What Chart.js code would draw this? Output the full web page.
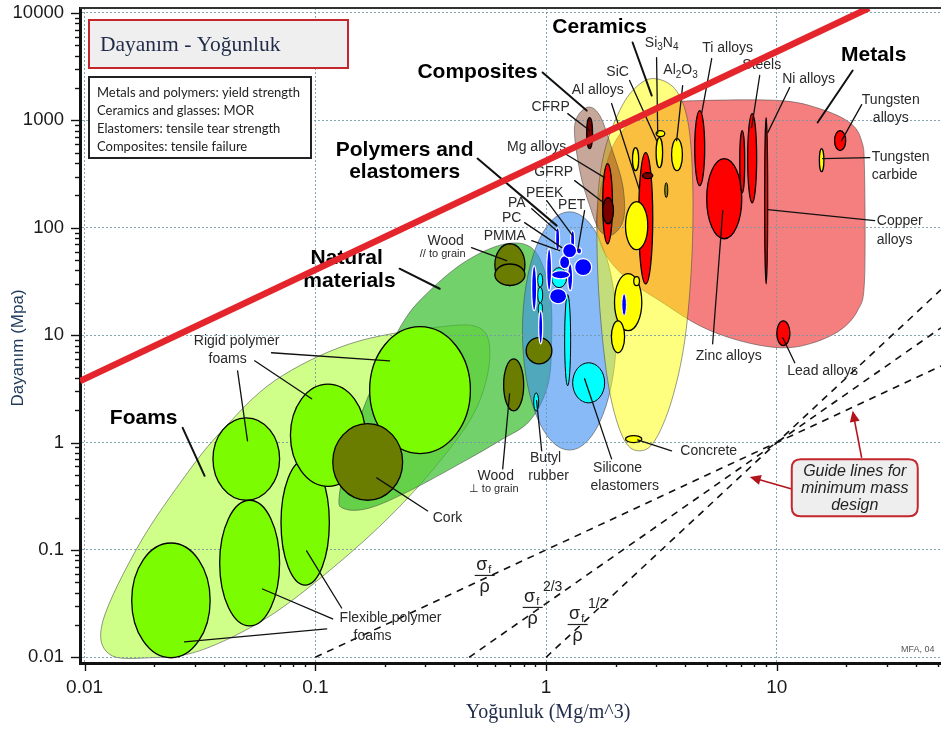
<!DOCTYPE html>
<html>
<head>
<meta charset="utf-8">
<script src="https://cdn.jsdelivr.net/npm/chart.js@4.4.1/dist/chart.umd.min.js"></script>
<style>
  html, body { margin: 0; padding: 0; background: #fff; }
  canvas { display: block; }
</style>
</head>
<body>
<canvas id="chart" width="941" height="733"></canvas>
<script>
// ---------- axes ----------
const densityTicks = [0.01, 0.1, 1, 10];
const densityTickLabels = ['0.01', '0.1', '1', '10'];
const strengthTicks = [0.01, 0.1, 1, 10, 100, 1000, 10000];
const strengthTickLabels = ['0.01', '0.1', '1', '10', '100', '1000', '10000'];
const densityBounds = [0.00955, 51.5];
const strengthBounds = [0.00885, 11130];

// ---------- family envelopes: [density, strength] outline points ----------
const foamEnvelope = [[0.0120,0.0218],[0.0173,0.114],[0.0277,0.51],[0.0393,1.285],[0.0666,3.76],[0.141,8.3],[0.322,11.7],[0.515,11.7],[0.57,6.16],[0.50,2.1],[0.356,0.72],[0.216,0.217],[0.119,0.068],[0.0615,0.0232],[0.0315,0.0115],[0.0191,0.0099],[0.0128,0.0107]];
const naturalEnvelope = [[0.127,0.319],[0.144,1.04],[0.181,3.76],[0.239,13.0],[0.313,25.9],[0.453,49.4],[0.675,71.1],[0.892,61.2],[1.036,25.9],[1.057,8.87],[1.016,3.38],[0.849,1.59],[0.63,1.04],[0.422,0.633],[0.256,0.355],[0.172,0.246],[0.134,0.241]];
const polymerEnvelope = [0.79, 2.02, 0.85, 141];   // density min/max, strength min/max
const metalEnvelope = [[1.66,130],[1.795,340],[2.04,691],[2.54,1109],[3.43,1434],[4.63,1529],[10.3,1529],[15.3,1288],[20.7,954],[23.3,648],[24.0,340],[24.0,32.1],[22.4,16.9],[18.7,11.0],[13.9,8.3],[10.3,7.63],[6.91,8.87],[4.63,12.24],[3.11,20.9],[2.30,32.1],[1.887,49.4],[1.707,75.8]];
const ceramicEnvelope = [[2.90,2453],[3.61,1977],[4.11,996],[4.32,275],[4.28,49.4],[3.99,8.87],[3.50,2.45],[2.96,1.04],[2.54,0.837],[2.19,1.04],[1.92,2.45],[1.76,8.87],[1.674,39.8],[1.674,179],[1.795,523],[2.085,1234],[2.42,1977]];
const compositeEnvelope = [[1.33,894],[1.50,1316],[1.71,1109],[1.94,523],[2.15,247],[2.17,122],[1.94,86],[1.71,94],[1.545,161],[1.40,340]];

// ---------- material bubbles: [density min, density max, strength min, strength max] ----------
const foamRanges = [
  [0.016, 0.035, 0.0099, 0.116],
  [0.0385, 0.070, 0.0196, 0.29],
  [0.071, 0.115, 0.047, 0.69],
  [0.036, 0.070, 0.29, 1.7],
  [0.078, 0.165, 0.39, 3.5],
  [0.172, 0.47, 0.79, 12]
];
const naturalRanges = [
  [0.119, 0.239, 0.29, 1.5],     // cork
  [0.60, 0.81, 29, 71],          // wood, parallel to grain
  [0.60, 0.81, 29, 46],
  [0.655, 0.80, 1.97, 6.0],      // wood, across grain
  [0.82, 1.06, 5.4, 9.5]
];
const elastomerRanges = [
  [1.057, 1.228, 27.7, 42.5],
  [0.92, 0.967, 28, 37.4],
  [0.92, 0.967, 20, 28],
  [0.925, 0.965, 15.8, 20],
  [1.204, 1.278, 3.38, 23.8],
  [1.304, 1.795, 2.34, 5.53],    // silicone
  [0.884, 0.929, 1.97, 2.9]      // butyl rubber
];
const polymerRanges = [
  [1.10, 1.145, 61, 100],        // PA
  [1.278, 1.33, 61, 94],         // PEEK
  [1.006, 1.057, 25.9, 63.8],
  [0.866, 0.911, 16.9, 44.3],
  [0.929, 0.967, 8.3, 16.9],
  [1.036, 1.228, 19.6, 27.1],
  [1.24, 1.304, 25.9, 46.3],
  [1.057, 1.266, 33.5, 39.8],
  [1.145, 1.266, 41.6, 55],
  [1.33, 1.577, 35.8, 51.5],
  [1.18, 1.357, 52.6, 71],       // PC / PMMA
  [1.357, 1.426, 57, 65]         // PET
];
const metalRanges = [
  [1.76, 1.94, 71, 396],         // Mg alloys
  [2.52, 2.90, 30, 500],         // Al alloys
  [4.41, 4.87, 247, 1234],       // Ti alloys
  [4.97, 7.05, 79, 441],         // Zinc alloys
  [6.91, 7.26, 212, 804],        // steels
  [7.48, 8.18, 171, 1157],       // steels
  [8.86, 9.13, 30, 1062],        // Ni / copper alloys
  [17.8, 19.9, 523, 804],        // tungsten alloys
  [10.0, 11.4, 8.0, 13.6]        // lead alloys
];
const ceramicRanges = [
  [3.0, 3.2, 363, 692],          // Si3N4
  [3.0, 3.27, 706, 804],         // SiC
  [3.5, 3.9, 340, 677],          // Al2O3
  [2.37, 2.52, 340, 558],
  [2.21, 2.76, 62.5, 175],
  [1.98, 2.6, 11, 37.4],
  [2.40, 2.54, 28.9, 35],
  [1.92, 2.19, 6.85, 13.6],
  [2.21, 2.6, 1.0, 1.16],        // concrete
  [15.3, 16.0, 333, 546]         // tungsten carbide
];
const compositeRanges = [
  [1.50, 1.59, 546, 1062],       // CFRP
  [1.76, 1.96, 109, 191],        // GFRP
  [2.62, 2.90, 287, 326]
];
const glassRanges = [[2.13, 2.23, 15.2, 24.3]];
const cermetRanges = [[3.27, 3.37, 191, 263]];

// ---------- straight guide lines ----------
const limitLineDensity = [0.00955, 25.1];
const limitLineStrength = [3.74, 11130];
const guideDensity1 = [0.1, 51.5],   guideStrength1 = [0.01, 5.15];
const guideDensity2 = [0.464, 51.5], guideStrength2 = [0.01, 11.7];
const guideDensity3 = [1, 51.5],     guideStrength3 = [0.01, 26.5];

// ---------- annotations, placed at [log10 density, log10 strength] ----------
const familyLabels = [
  ['Ceramics', 0.232, 3.865], ['Composites', -0.297, 3.446], ['Metals', 1.420, 3.604],
  ['Polymers and', -0.613, 2.719], ['elastomers', -0.613, 2.514],
  ['Natural', -0.864, 1.721], ['materials', -0.852, 1.507], ['Foams', -1.744, 0.230]
];
const familyLeaders = [
  [0.375, 3.725, 0.458, 3.231], [-0.015, 3.446, 0.176, 3.091], [1.329, 3.464, 1.177, 2.980],
  [-0.297, 2.644, 0.046, 2.020], [-0.635, 1.619, -0.461, 1.432], [-1.575, 0.137, -1.480, -0.310]
];
const materialLabels = [
  ['Si_3N_4', 0.501, 3.716], ['SiC', 0.310, 3.446], ['Al_2O_3', 0.583, 3.464], ['Al alloys', 0.224, 3.278],
  ['CFRP', 0.020, 3.119], ['Mg alloys', -0.041, 2.747], ['GFRP', 0.033, 2.514], ['PEEK', -0.006, 2.327],
  ['PA', -0.127, 2.225], ['PC', -0.149, 2.094], ['PET', 0.111, 2.215], ['PMMA', -0.179, 1.926],
  ['Wood', -0.435, 1.880], ['Wood', -0.218, -0.310], ['Butyl', -0.002, -0.143], ['rubber', 0.011, -0.310],
  ['Silicone', 0.310, -0.236], ['elastomers', 0.341, -0.404], ['Concrete', 0.705, -0.077],
  ['Zinc alloys', 0.792, 0.808], ['Lead alloys', 1.199, 0.668], ['Copper', 1.533, 2.066], ['alloys', 1.511, 1.889],
  ['Tungsten', 1.537, 2.653], ['carbide', 1.511, 2.486], ['Tungsten', 1.494, 3.185], ['alloys', 1.494, 3.017],
  ['Ni alloys', 1.138, 3.380], ['Steels', 0.935, 3.511], ['Ti alloys', 0.787, 3.669],
  ['Rigid polymer', -1.341, 0.948], ['foams', -1.380, 0.780],
  ['Flexible polymer', -0.674, -1.634], ['foams', -0.752, -1.802], ['Cork', -0.427, -0.702]
];
const grainCaptions = [['// to grain', -0.448, 1.759], ['\u22a5 to grain', -0.227, -0.432]];
const materialLeaders = [
  [0.479, 3.585, 0.484, 2.877], [0.362, 3.371, 0.479, 2.812], [0.592, 3.324, 0.566, 2.812],
  [0.284, 3.157, 0.406, 2.346], [0.094, 3.063, 0.189, 2.905], [0.081, 2.691, 0.254, 2.467],
  [0.124, 2.439, 0.254, 2.225], [0.003, 2.253, 0.115, 1.926], [-0.062, 2.178, 0.046, 1.973],
  [-0.093, 2.048, 0.068, 1.815], [0.167, 2.159, 0.137, 1.787], [-0.062, 1.880, 0.059, 1.787],
  [-0.323, 1.815, -0.171, 1.693], [-0.188, -0.245, -0.158, 0.454], [-0.019, -0.077, -0.041, 0.389],
  [0.284, -0.152, 0.167, 0.594], [0.544, -0.077, 0.397, 0.025], [0.722, 0.920, 0.766, 2.159],
  [1.078, 0.743, 1.026, 0.976], [1.424, 2.066, 0.961, 2.169], [1.403, 2.653, 1.199, 2.644],
  [1.368, 3.147, 1.281, 2.812], [1.056, 3.306, 0.961, 2.886], [0.926, 3.418, 0.891, 2.933],
  [0.718, 3.576, 0.675, 3.073], [-1.337, 0.668, -1.294, 0.016], [-1.263, 0.761, -1.016, 0.407],
  [-1.190, 0.836, -0.678, 0.761], [-0.886, -1.541, -1.038, -1.009], [-0.925, -1.643, -1.229, -1.364],
  [-0.951, -1.736, -1.567, -1.857], [-0.513, -0.637, -0.734, -0.329]
];
const guideNoteSpot = [1.338, -0.422];
const guideNoteLines = ['Guide lines for', 'minimum mass', 'design'];
const guideNoteArrows = [[1.065, -0.432, 0.883, -0.320], [1.368, -0.143, 1.329, 0.295]];
const indexFractions = [[-0.266, -1.233, ''], [-0.058, -1.531, '2/3'], [0.137, -1.690, '1/2']];
const creditSpot = [1.611, -1.932];
const chartTitle = 'Dayan\u0131m - Yo\u011funluk';
const criteriaNotes = ['Metals and polymers: yield strength', 'Ceramics and glasses: MOR',
                       'Elastomers: tensile tear strength', 'Composites: tensile failure'];
const xTitle = 'Yo\u011funluk (Mg/m^3)';
const yTitle = 'Dayan\u0131m (Mpa)';

// ---------- styling ----------
const SANS = '"Liberation Sans", Arial, sans-serif';
const SERIF = '"Liberation Serif", "Times New Roman", serif';
const envelopeLayers = [
  { pts: foamEnvelope, fill: 'rgba(196,255,110,0.82)' },
  { pts: naturalEnvelope, fill: 'rgba(55,190,45,0.70)' },
  { range: polymerEnvelope, fill: 'rgba(55,140,240,0.60)' },
  { pts: metalEnvelope, fill: 'rgba(240,60,60,0.66)' },
  { pts: ceramicEnvelope, fill: 'rgba(255,255,0,0.50)' },
  { pts: compositeEnvelope, fill: 'rgba(130,60,30,0.45)' }
];
const bubbleLayers = [
  { ranges: foamRanges, fill: '#7CFC00', stroke: '#000', w: 1.3 },
  { ranges: naturalRanges, fill: '#6B7D00', stroke: '#000', w: 1.3 },
  { ranges: elastomerRanges, fill: '#00FFFF', stroke: '#000', w: 1 },
  { ranges: polymerRanges, fill: '#0000FF', stroke: '#fff', w: 1.2 },
  { ranges: metalRanges, fill: '#FF0000', stroke: '#000', w: 1.3 },
  { ranges: ceramicRanges, fill: '#FFFF00', stroke: '#000', w: 1.3 },
  { ranges: compositeRanges, fill: '#7A0000', stroke: '#000', w: 1.3 },
  { ranges: glassRanges, fill: '#0000FF', stroke: '#fff', w: 1 },
  { ranges: cermetRanges, fill: '#8A8A00', stroke: '#000', w: 1 }
];

// ---------- drawing helpers ----------
function px(chart, u) { return chart.scales.x.getPixelForValue(Math.pow(10, u)); }
function py(chart, v) { return chart.scales.y.getPixelForValue(Math.pow(10, v)); }

function rangeEllipse(ctx, xs, ys, r) {
  const x1 = xs.getPixelForValue(r[0]), x2 = xs.getPixelForValue(r[1]);
  const y1 = ys.getPixelForValue(r[2]), y2 = ys.getPixelForValue(r[3]);
  ctx.beginPath();
  ctx.ellipse((x1 + x2) / 2, (y1 + y2) / 2, Math.abs(x2 - x1) / 2, Math.abs(y2 - y1) / 2, 0, 0, Math.PI * 2);
}

function smoothHull(ctx, pts) {
  const n = pts.length;
  ctx.beginPath();
  ctx.moveTo(pts[0][0], pts[0][1]);
  for (let i = 0; i < n; i++) {
    const p0 = pts[(i - 1 + n) % n], p1 = pts[i], p2 = pts[(i + 1) % n], p3 = pts[(i + 2) % n];
    ctx.bezierCurveTo(
      p1[0] + (p2[0] - p0[0]) / 6, p1[1] + (p2[1] - p0[1]) / 6,
      p2[0] - (p3[0] - p1[0]) / 6, p2[1] - (p3[1] - p1[1]) / 6,
      p2[0], p2[1]);
  }
  ctx.closePath();
}

function richText(ctx, text, cx, cy, size, weight) {
  const segs = [];
  for (let i = 0; i < text.length; i++) {
    if (text[i] === '_' && i + 1 < text.length) { segs.push({ t: text[i + 1], sub: true }); i++; }
    else if (segs.length && !segs[segs.length - 1].sub) segs[segs.length - 1].t += text[i];
    else segs.push({ t: text[i], sub: false });
  }
  const fN = weight + ' ' + size + 'px ' + SANS, fS = weight + ' ' + Math.round(size * 0.72) + 'px ' + SANS;
  let w = 0;
  segs.forEach(s => { ctx.font = s.sub ? fS : fN; s.w = ctx.measureText(s.t).width; w += s.w; });
  let x = cx - w / 2;
  ctx.textAlign = 'left';
  ctx.textBaseline = 'middle';
  segs.forEach(s => { ctx.font = s.sub ? fS : fN; ctx.fillText(s.t, x, cy + (s.sub ? size * 0.3 : 0)); x += s.w; });
}

function segment(ctx, chart, l, width) {
  ctx.beginPath();
  ctx.moveTo(px(chart, l[0]), py(chart, l[1]));
  ctx.lineTo(px(chart, l[2]), py(chart, l[3]));
  ctx.lineWidth = width;
  ctx.stroke();
}

function arrow(ctx, x1, y1, x2, y2) {
  const a = Math.atan2(y2 - y1, x2 - x1), L = 11, W = 5;
  ctx.beginPath(); ctx.moveTo(x1, y1); ctx.lineTo(x2 - L * 0.6 * Math.cos(a), y2 - L * 0.6 * Math.sin(a)); ctx.stroke();
  ctx.beginPath();
  ctx.moveTo(x2, y2);
  ctx.lineTo(x2 - L * Math.cos(a) + W * Math.sin(a), y2 - L * Math.sin(a) - W * Math.cos(a));
  ctx.lineTo(x2 - L * Math.cos(a) - W * Math.sin(a), y2 - L * Math.sin(a) + W * Math.cos(a));
  ctx.closePath(); ctx.fill();
}

function roundRect(ctx, x, y, w, h, r) {
  ctx.beginPath();
  ctx.moveTo(x + r, y); ctx.lineTo(x + w - r, y); ctx.quadraticCurveTo(x + w, y, x + w, y + r);
  ctx.lineTo(x + w, y + h - r); ctx.quadraticCurveTo(x + w, y + h, x + w - r, y + h);
  ctx.lineTo(x + r, y + h); ctx.quadraticCurveTo(x, y + h, x, y + h - r);
  ctx.lineTo(x, y + r); ctx.quadraticCurveTo(x, y, x + r, y);
  ctx.closePath();
}

function drawLabels(chart) {
  const ctx = chart.ctx;
  ctx.save();
  ctx.strokeStyle = '#111';
  ctx.lineCap = 'round';
  materialLeaders.forEach(l => segment(ctx, chart, l, 1.3));
  familyLeaders.forEach(l => segment(ctx, chart, l, 2));
  ctx.fillStyle = '#2a2a2a';
  materialLabels.forEach(l => richText(ctx, l[0], px(chart, l[1]), py(chart, l[2]), 14, 'normal'));
  grainCaptions.forEach(l => richText(ctx, l[0], px(chart, l[1]), py(chart, l[2]), 11, 'normal'));
  ctx.fillStyle = '#000';
  familyLabels.forEach(l => richText(ctx, l[0], px(chart, l[1]), py(chart, l[2]), 21, 'bold'));
  ctx.restore();
}

const ashbyPlugin = {
  id: 'ashby',
  beforeDraw(chart) {
    const { ctx, chartArea: a, scales: { x, y } } = chart;
    ctx.save();
    ctx.fillStyle = '#fff';
    ctx.fillRect(0, 0, chart.width, chart.height);
    ctx.beginPath(); ctx.rect(a.left, a.top, a.right - a.left, a.bottom - a.top); ctx.clip();
    envelopeLayers.forEach(env => {
      if (env.range) rangeEllipse(ctx, x, y, env.range);
      else smoothHull(ctx, env.pts.map(p => [x.getPixelForValue(p[0]), y.getPixelForValue(p[1])]));
      ctx.fillStyle = env.fill; ctx.fill();
      ctx.strokeStyle = 'rgba(70,70,70,0.55)'; ctx.lineWidth = 1; ctx.stroke();
    });
    ctx.restore();
  },
  beforeDatasetsDraw(chart) {
    const { ctx, chartArea: a, scales: { x, y } } = chart;
    ctx.save();
    ctx.beginPath(); ctx.rect(a.left, a.top, a.right - a.left, a.bottom - a.top); ctx.clip();
    bubbleLayers.forEach(layer => layer.ranges.forEach(r => {
      rangeEllipse(ctx, x, y, r);
      ctx.fillStyle = layer.fill; ctx.fill();
      ctx.strokeStyle = layer.stroke; ctx.lineWidth = layer.w; ctx.stroke();
    }));
    ctx.restore();
  },
  beforeDatasetDraw(chart, args) {
    // labels sit above the dashed guides but beneath the thick limit line
    if (args.index === 0) drawLabels(chart);
  },
  afterDatasetsDraw(chart) {
    const { ctx, chartArea: a, scales: { x, y } } = chart;
    ctx.save();

    // index fractions on the guide lines
    ctx.fillStyle = '#222'; ctx.strokeStyle = '#222';
    indexFractions.forEach(f => {
      const cx = px(chart, f[0]), cy = py(chart, f[1]);
      ctx.textAlign = 'center'; ctx.textBaseline = 'middle';
      ctx.font = '18px ' + SANS; ctx.fillText('\u03c3', cx - 3, cy - 10);
      ctx.font = '11px ' + SANS; ctx.fillText('f', cx + 5, cy - 5);
      ctx.font = '18px ' + SANS; ctx.fillText('\u03c1', cx, cy + 12);
      ctx.lineWidth = 1.2; ctx.beginPath(); ctx.moveTo(cx - 10, cy + 0.5); ctx.lineTo(cx + 10, cy + 0.5); ctx.stroke();
      if (f[2]) { ctx.font = '14px ' + SANS; ctx.fillText(f[2], cx + 20, cy - 20); }
    });

    // guide-line note
    const gx = px(chart, guideNoteSpot[0]), gy = py(chart, guideNoteSpot[1]);
    ctx.fillStyle = '#B3141C'; ctx.strokeStyle = '#B3141C'; ctx.lineWidth = 1.6;
    guideNoteArrows.forEach(l => arrow(ctx, px(chart, l[0]), py(chart, l[1]), px(chart, l[2]), py(chart, l[3])));
    roundRect(ctx, gx - 63, gy - 28.5, 126, 57, 9);
    ctx.fillStyle = '#EEEEEE'; ctx.fill();
    ctx.strokeStyle = '#C4262E'; ctx.lineWidth = 2; ctx.stroke();
    ctx.fillStyle = '#222'; ctx.font = 'italic 16px ' + SANS; ctx.textAlign = 'center'; ctx.textBaseline = 'middle';
    guideNoteLines.forEach((t, i) => ctx.fillText(t, gx, gy - 16 + i * 17));

    ctx.fillStyle = '#555'; ctx.font = '9px ' + SANS;
    ctx.fillText('MFA, 04', px(chart, creditSpot[0]), py(chart, creditSpot[1]));

    // chart title box
    ctx.fillStyle = '#EFEFEF'; ctx.fillRect(a.left + 9, a.top + 12, 259, 48);
    ctx.strokeStyle = '#C4262E'; ctx.lineWidth = 2; ctx.strokeRect(a.left + 9, a.top + 12, 259, 48);
    ctx.fillStyle = '#1F2B47'; ctx.font = '21.5px ' + SERIF; ctx.textAlign = 'left';
    ctx.fillText(chartTitle, a.left + 20, a.top + 37);

    // strength criteria box
    ctx.fillStyle = '#fff'; ctx.fillRect(a.left + 9, a.top + 69, 222, 81);
    ctx.strokeStyle = '#222'; ctx.lineWidth = 2; ctx.strokeRect(a.left + 9, a.top + 69, 222, 81);
    ctx.fillStyle = '#222'; ctx.font = '13px Lato, "Open Sans", sans-serif';
    criteriaNotes.forEach((t, i) => ctx.fillText(t, a.left + 17, a.top + 85 + i * 18));

    // top frame
    ctx.strokeStyle = '#333'; ctx.lineWidth = 2;
    ctx.beginPath(); ctx.moveTo(a.left, a.top); ctx.lineTo(a.right, a.top); ctx.stroke();

    // tick marks, majors and minors
    ctx.strokeStyle = '#111'; ctx.lineWidth = 1.4;
    const decadesX = [0.01, 0.1, 1, 10];
    decadesX.forEach(d => { for (let m = 1; m <= 9; m++) {
      const v = d * m; if (v < x.min || v > x.max) continue;
      const p = Math.round(x.getPixelForValue(v)) + 0.5;
      ctx.beginPath(); ctx.moveTo(p, a.bottom); ctx.lineTo(p, a.bottom + (m === 1 ? 8 : 4)); ctx.stroke();
    }});
    const decadesY = [0.01, 0.1, 1, 10, 100, 1000, 10000];
    decadesY.forEach(d => { for (let m = 1; m <= 9; m++) {
      const v = d * m; if (v < y.min || v > y.max) continue;
      const p = Math.round(y.getPixelForValue(v)) + 0.5;
      ctx.beginPath(); ctx.moveTo(a.left, p); ctx.lineTo(a.left - (m === 1 ? 9 : 5), p); ctx.stroke();
    }});

    // axis titles
    ctx.fillStyle = '#1F2B47'; ctx.font = '20px ' + SERIF; ctx.textAlign = 'center'; ctx.textBaseline = 'middle';
    ctx.fillText(xTitle, 548, 713);
    ctx.save(); ctx.translate(18, 348); ctx.rotate(-Math.PI / 2);
    ctx.fillStyle = '#1F3A5A'; ctx.font = '17px ' + SANS; ctx.fillText(yTitle, 0, 0);
    ctx.restore();

    ctx.restore();
  }
};

const pairs = (xs, ys) => xs.map((v, i) => ({ x: v, y: ys[i] }));
const noEdgePadding = s => { s.paddingTop = 0; s.paddingBottom = 0; s.paddingLeft = 0; s.paddingRight = 0; };

new Chart(document.getElementById('chart'), {
  type: 'scatter',
  data: {
    datasets: [
      { data: pairs(limitLineDensity, limitLineStrength), showLine: true, borderColor: '#E4262C', borderWidth: 6.5, pointRadius: 0, clip: 0 },
      { data: pairs(guideDensity1, guideStrength1), showLine: true, borderColor: '#111', borderWidth: 1.6, borderDash: [7, 6], pointRadius: 0, clip: 0 },
      { data: pairs(guideDensity2, guideStrength2), showLine: true, borderColor: '#111', borderWidth: 1.6, borderDash: [7, 6], pointRadius: 0, clip: 0 },
      { data: pairs(guideDensity3, guideStrength3), showLine: true, borderColor: '#111', borderWidth: 1.6, borderDash: [7, 6], pointRadius: 0, clip: 0 }
    ]
  },
  options: {
    responsive: false,
    devicePixelRatio: 1,
    animation: false,
    events: [],
    layout: { padding: { top: 8, right: 0, left: 0, bottom: 0 } },
    plugins: { legend: { display: false }, tooltip: { enabled: false }, title: { display: false } },
    scales: {
      x: {
        type: 'logarithmic', position: 'bottom',
        min: densityBounds[0], max: densityBounds[1],
        afterBuildTicks: s => { s.ticks = densityTicks.map(v => ({ value: v })); },
        afterFit: s => { s.height = 70; noEdgePadding(s); },
        ticks: { callback: (v, i) => densityTickLabels[i], autoSkip: false, maxRotation: 0, padding: 13,
                 color: '#1a1a1a', font: { family: SANS, size: 19 } },
        grid: { color: 'rgba(110,150,165,0.85)', lineWidth: 1, drawTicks: false },
        border: { display: true, color: '#111', width: 3, dash: [2, 2] }
      },
      y: {
        type: 'logarithmic', position: 'left',
        min: strengthBounds[0], max: strengthBounds[1],
        afterBuildTicks: s => { s.ticks = strengthTicks.map(v => ({ value: v })); },
        afterFit: s => { s.width = 80; noEdgePadding(s); },
        ticks: { callback: (v, i) => strengthTickLabels[i], autoSkip: false, padding: 16,
                 color: '#1a1a1a', font: { family: SANS, size: 18.5 } },
        grid: { color: 'rgba(110,150,165,0.85)', lineWidth: 1, drawTicks: false },
        border: { display: true, color: '#111', width: 3, dash: [2, 2] }
      }
    }
  },
  plugins: [ashbyPlugin]
});
</script>
</body>
</html>
